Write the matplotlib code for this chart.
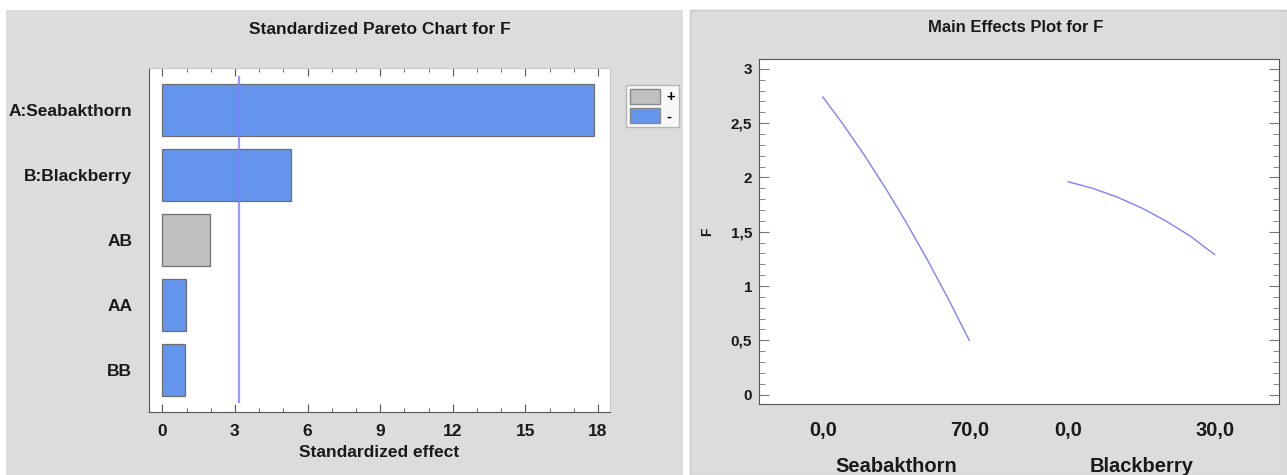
import numpy as np
import matplotlib.pyplot as plt
from matplotlib.patches import Rectangle, Patch
from matplotlib.ticker import MultipleLocator

plt.rcParams['font.family'] = ['Liberation Sans', 'DejaVu Sans']
plt.rcParams['font.weight'] = 'bold'
plt.rcParams['axes.labelweight'] = 'bold'

# Pareto chart data
effects = ["A:Seabakthorn", "B:Blackberry", "AB", "AA", "BB"]
std_effect = [17.85, 5.33, 1.99, 0.97, 0.94]
effect_sign = ["-", "-", "+", "-", "-"]
t_crit = 3.18

# Main effects data (read along each factor's range)
seabakthorn_x = [0, 10, 20, 30, 40, 50, 60, 70]
seabakthorn_f = [2.74, 2.48, 2.20, 1.90, 1.58, 1.24, 0.88, 0.50]
blackberry_x = [0, 5, 10, 15, 20, 25, 30]
blackberry_f = [1.96, 1.90, 1.82, 1.72, 1.60, 1.46, 1.29]

pos_color = "#c0c0c0"
neg_color = "#6495ed"
panel_gray = "#dcdcdc"
text_col = "#1a1a1a"

W, H = 1287, 475
fig = plt.figure(figsize=(W / 100, H / 100), dpi=100, facecolor="white")

# gray panels behind each chart
fig.patches.append(Rectangle((6 / W, 0), 677 / W, 465 / H, transform=fig.transFigure,
                             facecolor=panel_gray, edgecolor="none", zorder=-5))
fig.patches.append(Rectangle((690 / W, 0), 597 / W, 465 / H, transform=fig.transFigure,
                             facecolor=panel_gray, edgecolor="#c8c8c8", lw=1, zorder=-5))

# ---- left: standardized pareto chart ----
ax1 = fig.add_axes([149 / W, (H - 412) / H, 461 / W, 344 / H])
ypos = np.arange(len(effects))
colors = [pos_color if s == "+" else neg_color for s in effect_sign]
ax1.barh(ypos, std_effect, height=0.8, color=colors, edgecolor="#6e6e6e", lw=0.9, zorder=2)
ax1.axvline(t_crit, ymin=0.03, ymax=0.975, color="#7f7fff", lw=1.6, alpha=0.8, zorder=3)
ax1.set_ylim(4.65, -0.65)
ax1.set_xlim(-0.55, 18.5)
ax1.set_yticks(ypos)
ax1.set_yticklabels(effects, fontsize=12.5, color=text_col)
ax1.tick_params(axis="y", length=0, pad=12)
ax1.xaxis.set_major_locator(MultipleLocator(3))
ax1.xaxis.set_minor_locator(MultipleLocator(1))
ax1.tick_params(axis="x", which="both", direction="in", top=True, color="#555555",
                labelsize=12.5, labelcolor=text_col, pad=9)
ax1.tick_params(axis="x", which="major", length=6)
ax1.tick_params(axis="x", which="minor", length=3)
ax1.set_xlabel("Standardized effect", fontsize=12.5, color=text_col, labelpad=4)
for side in ["top", "right"]:
    ax1.spines[side].set_color("#c8c8c8")
for side in ["left", "bottom"]:
    ax1.spines[side].set_color("#555555")
fig.text(380 / W, 1 - 29 / H, "Standardized Pareto Chart for F", ha="center", va="center",
         fontsize=12.5, color=text_col)

handles = [Patch(facecolor=pos_color, edgecolor="#888888"),
           Patch(facecolor=neg_color, edgecolor="#888888")]
leg = fig.legend(handles, ["+", "-"], loc="upper left", bbox_to_anchor=(626 / W, 1 - 85 / H),
                 frameon=True, fancybox=False, fontsize=10.5, handlelength=2.1, handleheight=1.25,
                 handletextpad=0.45, borderpad=0.25, labelspacing=0.25, borderaxespad=0)
leg.get_frame().set_edgecolor("#aaaaaa")
leg.get_frame().set_linewidth(1)

# ---- right: main effects plot ----
ax2 = fig.add_axes([759 / W, (H - 404) / H, 520 / W, 345 / H])
a_off, b_off = 0.0, 1.675
ax2.plot(a_off + np.array(seabakthorn_x) / 70, seabakthorn_f, color="#8080ff", lw=1.0)
ax2.plot(b_off + np.array(blackberry_x) / 30, blackberry_f, color="#8080ff", lw=1.0)
ax2.set_xlim(-0.436, 3.115)
ax2.set_ylim(-0.086, 3.09)
ax2.set_xticks([a_off, a_off + 1, b_off, b_off + 1])
ax2.set_xticklabels(["0,0", "70,0", "0,0", "30,0"], fontsize=14.5, color=text_col)
ax2.tick_params(axis="x", length=0, pad=12)
ax2.set_yticks([0, 0.5, 1, 1.5, 2, 2.5, 3])
ax2.set_yticklabels(["0", "0,5", "1", "1,5", "2", "2,5", "3"], fontsize=11, color=text_col)
ax2.yaxis.set_minor_locator(MultipleLocator(0.1))
ax2.tick_params(axis="y", which="both", direction="in", right=True, color="#777777", pad=5)
ax2.tick_params(axis="y", which="major", length=7)
ax2.tick_params(axis="y", which="minor", length=4)
ax2.set_ylabel("F", fontsize=10, color=text_col, labelpad=12)
for side in ax2.spines:
    ax2.spines[side].set_color("#555555")
ax2.text(a_off + 0.5, -0.18, "Seabakthorn", transform=ax2.get_xaxis_transform(),
         ha="center", va="center", fontsize=14.5, color=text_col)
ax2.text(b_off + 0.5, -0.18, "Blackberry", transform=ax2.get_xaxis_transform(),
         ha="center", va="center", fontsize=14.5, color=text_col)
fig.text(1016 / W, 1 - 28 / H, "Main Effects Plot for F", ha="center", va="center",
         fontsize=12, color=text_col)

fig.savefig("out.png", dpi=100, facecolor=fig.get_facecolor())
